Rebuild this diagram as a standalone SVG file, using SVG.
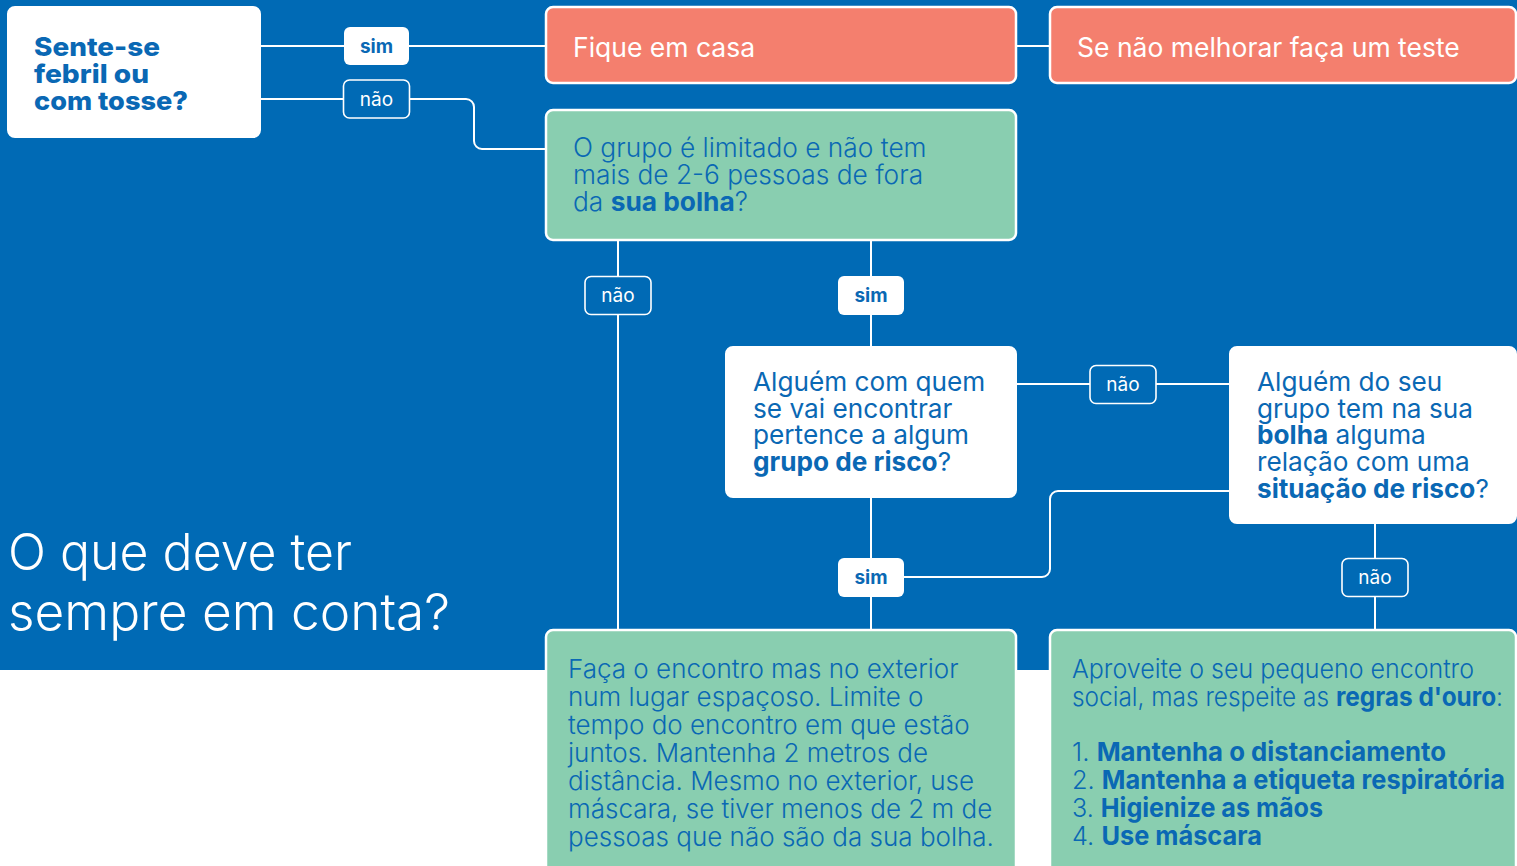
<svg xmlns="http://www.w3.org/2000/svg" width="1517" height="866" viewBox="0 0 1517 866">
<style>
.t{font-family:Inter,"Liberation Sans",sans-serif}
.sal{fill:#F47F6E;stroke:#fff;stroke-width:2.5}
.grn{fill:#89CEB0;stroke:#fff;stroke-width:2.5}
.wht{fill:#fff;stroke:#fff;stroke-width:2}
.lblS{fill:#fff}
.lblN{fill:#006AB5;stroke:#fff;stroke-width:1.6}
.conn{fill:none;stroke:#fff;stroke-width:2}
.lt{font-family:Inter,"Liberation Sans",sans-serif;font-size:19px;text-anchor:middle}
.bb{font-weight:700}
.blue{fill:#0A68B4}
</style>
<rect x="0" y="0" width="1517" height="670" fill="#006AB5"/>
<rect x="0" y="670" width="1517" height="196" fill="#fff"/>
<g id="connectors">
<path class="conn" d="M260 46H546"/>
<path class="conn" d="M260 99H466a8 8 0 0 1 8 8V141a8 8 0 0 0 8 8H546"/>
<path class="conn" d="M1016 46H1050"/>
<path class="conn" d="M618 240V630"/>
<path class="conn" d="M871 240V347"/>
<path class="conn" d="M1016 384H1230"/>
<path class="conn" d="M871 497V630"/>
<path class="conn" d="M1230 491H1058a8 8 0 0 0 -8 8V569a8 8 0 0 1 -8 8H904"/>
<path class="conn" d="M1375 523V630"/>
<g id="lbl-sim1"><rect class="lblS" x="344" y="27" width="65" height="38" rx="6"/><text class="lt bb blue" x="376.5" y="53">sim</text></g>
<g id="lbl-nao1"><rect class="lblN" x="343.5" y="80" width="66" height="38" rx="6"/><text class="lt" fill="#fff" x="376.5" y="106">não</text></g>
<g id="lbl-nao2"><rect class="lblN" x="585" y="276.5" width="66" height="38" rx="6"/><text class="lt" fill="#fff" x="618" y="302">não</text></g>
<g id="lbl-sim2"><rect class="lblS" x="838" y="276" width="66" height="39" rx="6"/><text class="lt bb blue" x="871" y="302">sim</text></g>
<g id="lbl-nao3"><rect class="lblN" x="1090" y="365.5" width="66" height="38" rx="6"/><text class="lt" fill="#fff" x="1123" y="391">não</text></g>
<g id="lbl-sim3"><rect class="lblS" x="838" y="558" width="66" height="39" rx="6"/><text class="lt bb blue" x="871" y="584">sim</text></g>
<g id="lbl-nao4"><rect class="lblN" x="1342" y="558.5" width="66" height="38" rx="6"/><text class="lt" fill="#fff" x="1375" y="584">não</text></g>
</g>
<g id="n-febril">
<rect class="wht" x="8" y="7" width="252" height="130" rx="7"/>
<text class="t blue" font-weight="800" font-size="26"><tspan x="34" y="56" textLength="126" lengthAdjust="spacingAndGlyphs">Sente-se</tspan><tspan x="34" y="83" textLength="115" lengthAdjust="spacingAndGlyphs">febril ou</tspan><tspan x="34" y="110" textLength="154" lengthAdjust="spacingAndGlyphs">com tosse?</tspan></text>
</g>
<g id="n-casa">
<rect class="sal" x="546" y="7" width="470" height="76" rx="7"/>
<text class="t" font-size="26.5" fill="#fff" x="573" y="57">Fique em casa</text>
</g>
<g id="n-teste">
<rect class="sal" x="1050" y="7" width="466" height="76" rx="7"/>
<text class="t" font-size="26.5" fill="#fff" x="1077" y="57">Se não melhorar faça um teste</text>
</g>
<g id="n-grupo">
<rect class="grn" x="546" y="110" width="470" height="130" rx="7"/>
<text class="t blue" font-size="26.3" font-weight="300"><tspan x="573" y="157">O grupo é limitado e não tem</tspan><tspan x="573" y="184">mais de 2-6 pessoas de fora</tspan><tspan x="573" y="211">da <tspan class="bb">sua bolha</tspan>?</tspan></text>
</g>
<g id="n-risco1">
<rect class="wht" x="726" y="347" width="290" height="150" rx="7"/>
<text class="t blue" font-size="26.2"><tspan x="753" y="391">Alguém com quem</tspan><tspan x="753" y="418">se vai encontrar</tspan><tspan x="753" y="444">pertence a algum</tspan><tspan x="753" y="471"><tspan class="bb">grupo de risco</tspan>?</tspan></text>
</g>
<g id="n-risco2">
<rect class="wht" x="1230" y="347" width="286" height="176" rx="7"/>
<text class="t blue" font-size="26.2"><tspan x="1257" y="391">Alguém do seu</tspan><tspan x="1257" y="418">grupo tem na sua</tspan><tspan x="1257" y="444"><tspan class="bb">bolha</tspan> alguma</tspan><tspan x="1257" y="471">relação com uma</tspan><tspan x="1257" y="498"><tspan class="bb">situação de risco</tspan>?</tspan></text>
</g>
<g id="n-exterior">
<rect class="grn" x="546" y="630" width="470" height="250" rx="7"/>
<text class="t blue" font-size="26" font-weight="300"><tspan x="568" y="678">Faça o encontro mas no exterior</tspan><tspan x="568" y="706">num lugar espaçoso. Limite o</tspan><tspan x="568" y="734">tempo do encontro em que estão</tspan><tspan x="568" y="762">juntos. Mantenha 2 metros de</tspan><tspan x="568" y="790">distância. Mesmo no exterior, use</tspan><tspan x="568" y="818">máscara, se tiver menos de 2 m de</tspan><tspan x="568" y="846">pessoas que não são da sua bolha.</tspan></text>
</g>
<g id="n-regras">
<rect class="grn" x="1050" y="630" width="466" height="250" rx="7"/>
<text class="t blue" font-size="26" font-weight="300"><tspan x="1072" y="678" textLength="402" lengthAdjust="spacingAndGlyphs">Aproveite o seu pequeno encontro</tspan><tspan x="1072" y="706" textLength="431" lengthAdjust="spacingAndGlyphs">social, mas respeite as <tspan class="bb">regras d'ouro</tspan>:</tspan><tspan x="1072" y="761" textLength="374" lengthAdjust="spacingAndGlyphs">1. <tspan class="bb">Mantenha o distanciamento</tspan></tspan><tspan x="1072" y="789" textLength="433" lengthAdjust="spacingAndGlyphs">2. <tspan class="bb">Mantenha a etiqueta respiratória</tspan></tspan><tspan x="1072" y="817" textLength="251" lengthAdjust="spacingAndGlyphs">3. <tspan class="bb">Higienize as mãos</tspan></tspan><tspan x="1072" y="845" textLength="190" lengthAdjust="spacingAndGlyphs">4. <tspan class="bb">Use máscara</tspan></tspan></text>
</g>
<g id="title">
<text class="t" font-size="51" font-weight="300" fill="#fff"><tspan x="8" y="570" textLength="344" lengthAdjust="spacingAndGlyphs">O que deve ter</tspan><tspan x="8" y="630" textLength="442" lengthAdjust="spacingAndGlyphs">sempre em conta?</tspan></text>
</g>
</svg>
